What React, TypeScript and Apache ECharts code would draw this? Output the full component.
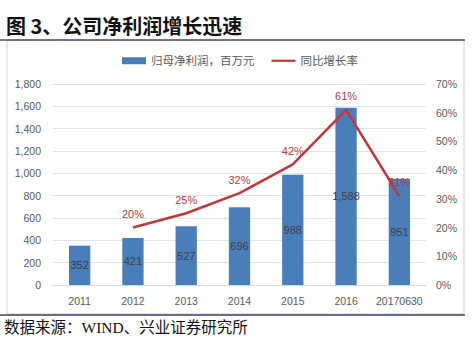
import React, { useEffect, useRef } from "react";
import * as echarts from "echarts";

const categories = ["2011", "2012", "2013", "2014", "2015", "2016", "20170630"];
const profitValues = [352, 421, 527, 696, 988, 1588, 951];
const growthValues: (number | null)[] = [null, 20, 25, 32, 42, 61, 31];
const leftTicks = { min: 0, max: 1800, interval: 200 };
const rightTicks = { min: 0, max: 70, interval: 10 };
const titleText = "图 3、公司净利润增长迅速";
const sourceText = "数据来源：WIND、兴业证券研究所";
const barName = "归母净利润，百万元";
const lineName = "同比增长率";

export default function App() {
  const ref = useRef<HTMLDivElement>(null);
  useEffect(() => {
    if (!ref.current) return;
    const chart = echarts.init(ref.current, undefined, { renderer: "svg" });
    const cjk = "'Liberation Serif', 'Noto Sans CJK SC', serif";
    const num = "'Liberation Sans', sans-serif";
    chart.setOption({
      animation: false,
      backgroundColor: "#ffffff",
      legend: {
        top: 55,
        left: 122,
        padding: 0,
        itemGap: 17,
        itemWidth: 24,
        itemHeight: 7,
        textStyle: { color: "#595959", fontSize: 11.5, fontFamily: cjk },
        data: [
          { name: barName, icon: "rect" },
          { name: lineName, icon: "path://M0,0L24,0L24,2.2L0,2.2Z" },
        ],
      },
      grid: { left: 53, right: 48, top: 84, bottom: 63, containLabel: false },
      xAxis: {
        type: "category",
        data: categories,
        axisLine: { lineStyle: { color: "#d9d9d9" } },
        axisTick: { show: false },
        axisLabel: { color: "#595959", fontSize: 10.5, fontFamily: num, margin: 10, interval: 0 },
      },
      yAxis: [
        {
          type: "value",
          min: leftTicks.min,
          max: leftTicks.max,
          interval: leftTicks.interval,
          axisLine: { show: false },
          axisTick: { show: false },
          splitLine: { lineStyle: { color: "#e3e3e3" } },
          axisLabel: {
            color: "#595959",
            fontSize: 10.5,
            fontFamily: num,
            margin: 12,
            formatter: (v: number) => v.toLocaleString("en-US"),
          },
        },
        {
          type: "value",
          min: rightTicks.min,
          max: rightTicks.max,
          interval: rightTicks.interval,
          axisLine: { show: false },
          axisTick: { show: false },
          splitLine: { show: false },
          axisLabel: {
            color: "#595959",
            fontSize: 10.5,
            fontFamily: num,
            margin: 10,
            formatter: "{value}%",
          },
        },
      ],
      series: [
        {
          name: barName,
          type: "bar",
          z: 2,
          data: profitValues,
          barWidth: "40%",
          itemStyle: { color: "#4a7ebb" },
          label: {
            show: true,
            position: "inside",
            color: "#3a3f4a",
            fontSize: 11,
            fontFamily: num,
            formatter: (p: any) => Number(p.value).toLocaleString("en-US"),
          },
        },
        {
          name: lineName,
          type: "line",
          z: 5,
          yAxisIndex: 1,
          data: growthValues,
          symbol: "circle",
          symbolSize: 0,
          showSymbol: true,
          lineStyle: { color: "#c0373a", width: 2.5 },
          itemStyle: { color: "#c0373a" },
          label: {
            show: true,
            position: "top",
            distance: 8,
            color: "#c0373a",
            fontSize: 11,
            fontFamily: num,
            formatter: (p: any) => (p.value == null ? "" : p.value + "%"),
          },
        },
      ],
      graphic: [
        {
          type: "text",
          left: 6,
          top: 15,
          style: {
            text: titleText,
            fontSize: 20,
            fontWeight: "bold",
            fill: "#111111",
            fontFamily: "'Noto Sans CJK SC', sans-serif",
          },
        },
        {
          type: "rect",
          shape: { x: 7, y: 40, width: 457, height: 274 },
          style: { fill: "none", stroke: "#d0d0d0", lineWidth: 1 },
          silent: true,
        },
        {
          type: "line",
          shape: { x1: 0, y1: 40, x2: 465, y2: 40 },
          style: { stroke: "#4a4f66", lineWidth: 1.5 },
        },
        {
          type: "line",
          shape: { x1: 0, y1: 315, x2: 465, y2: 315 },
          style: { stroke: "#3a3f66", lineWidth: 1.5 },
        },
        {
          type: "text",
          left: 4,
          top: 320,
          style: {
            text: sourceText,
            fontSize: 15.5,
            fill: "#111111",
            fontFamily: "'Liberation Serif', 'Noto Sans CJK SC', serif",
          },
        },
      ],
    });
    return () => chart.dispose();
  }, []);
  return (
    <div
      ref={ref}
      style={{ position: "fixed", left: 0, top: 0, width: 474, height: 348 }}
    />
  );
}
